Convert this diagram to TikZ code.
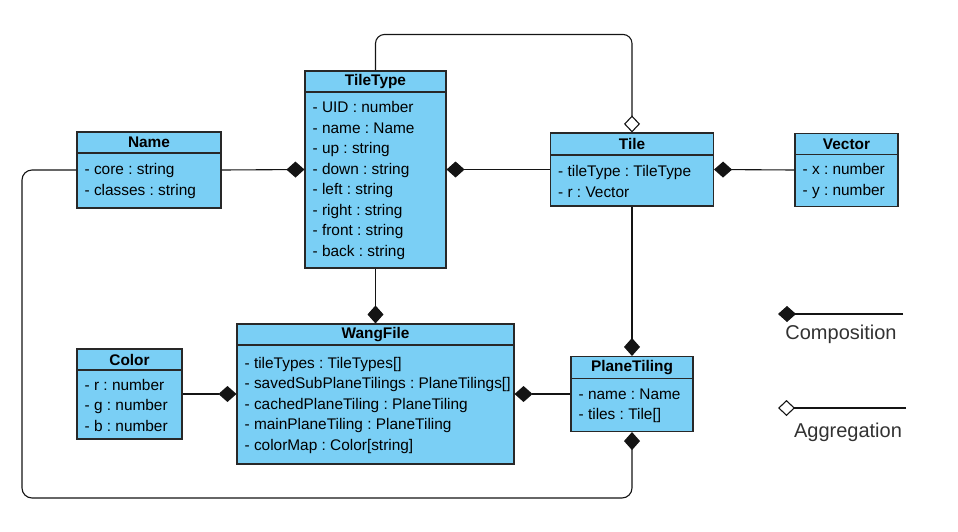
\documentclass[tikz,border=0pt]{standalone}
\usepackage{fontspec}
\setmainfont{Liberation Sans}
\usetikzlibrary{positioning,arrows.meta}
\definecolor{umlblue}{RGB}{122,207,245}
\definecolor{umlline}{RGB}{40,40,40}
\definecolor{linkline}{RGB}{20,20,20}
\definecolor{legendtext}{RGB}{50,50,50}
\frenchspacing

\begin{document}
\begin{tikzpicture}[
    x=1pt, y=-1pt,
    classbox/.style={draw=umlline, fill=umlblue, line width=1.1pt, inner sep=0pt},
    classtitle/.style={draw=umlline, line width=1.1pt, anchor=north, inner sep=0pt, font=\fontsize{15.4}{18}\selectfont\bfseries},
    classattrs/.style={anchor=north west, align=left, inner xsep=8pt, inner ysep=0pt, font=\fontsize{15.4}{20.5}\selectfont},
    comp/.style={draw=linkline, line width=1.1pt, -{Diamond[length=18pt, width=16pt]}},
    aggr/.style={draw=linkline, line width=1.1pt, -{Diamond[length=17pt, width=16pt, fill=white]}},
    legendlabel/.style={text=legendtext, font=\fontsize{20}{24}\selectfont},
]
\useasboundingbox (0,0) rectangle (958,531);

% classes
\node[classbox, minimum width=144pt, minimum height=76pt] (name) at (149,170) {};
\node[classtitle, minimum width=144pt, minimum height=21pt] (name-title) at (name.north) {Name};
\node[classattrs, minimum height=55pt] (name-attrs) at (name-title.south west) {- core : string\\- classes : string};

\node[classbox, minimum width=141pt, minimum height=197pt] (tiletype) at (375.5,169.5) {};
\node[classtitle, minimum width=141pt, minimum height=21pt] (tiletype-title) at (tiletype.north) {TileType};
\node[classattrs, minimum height=176pt] (tiletype-attrs) at (tiletype-title.south west) {- UID : number\\- name : Name\\- up : string\\- down : string\\- left : string\\- right : string\\- front : string\\- back : string};

\node[classbox, minimum width=163pt, minimum height=73pt] (tile) at (632,169.5) {};
\node[classtitle, minimum width=163pt, minimum height=22pt] (tile-title) at (tile.north) {Tile};
\node[classattrs, minimum height=51pt] (tile-attrs) at (tile-title.south west) {- tileType : TileType\\- r : Vector};

\node[classbox, minimum width=103pt, minimum height=73pt] (vector) at (846.5,170) {};
\node[classtitle, minimum width=103pt, minimum height=21pt] (vector-title) at (vector.north) {Vector};
\node[classattrs, minimum height=52pt] (vector-attrs) at (vector-title.south west) {- x : number\\- y : number};

\node[classbox, minimum width=277pt, minimum height=140pt] (wangfile) at (375.5,394) {};
\node[classtitle, minimum width=277pt, minimum height=21pt] (wangfile-title) at (wangfile.north) {WangFile};
\node[classattrs, minimum height=119pt] (wangfile-attrs) at (wangfile-title.south west) {- tileTypes : TileTypes[]\\- savedSubPlaneTilings : PlaneTilings[]\\- cachedPlaneTiling : PlaneTiling\\- mainPlaneTiling : PlaneTiling\\- colorMap : Color[string]};

\node[classbox, minimum width=105pt, minimum height=90pt] (color) at (129.5,394) {};
\node[classtitle, minimum width=105pt, minimum height=21pt] (color-title) at (color.north) {Color};
\node[classattrs, minimum height=69pt] (color-attrs) at (color-title.south west) {- r : number\\- g : number\\- b : number};

\node[classbox, minimum width=122pt, minimum height=75pt] (planetiling) at (632,394) {};
\node[classtitle, minimum width=122pt, minimum height=22pt] (planetiling-title) at (planetiling.north) {PlaneTiling};
\node[classattrs, minimum height=53pt] (planetiling-attrs) at (planetiling-title.south west) {- name : Name\\- tiles : Tile[]};

% connectors
\draw[comp] (name.east) -- (tiletype.west);
\draw[comp] (tile.west) -- (tiletype.east);
\draw[comp] (vector.west) -- (tile.east);
\draw[aggr, rounded corners=9pt] (tiletype.north) -- ++(0,-36) -| (tile.north);
\draw[comp] (tiletype.south) -- (wangfile.north);
\draw[comp] (tile.south) -- (planetiling.north);
\draw[comp] (color.east) -- (wangfile.west);
\draw[comp] (planetiling.west) -- (wangfile.east);
\coordinate (loopcorner) at (22,498);
\draw[comp, rounded corners=10pt] (name.west) -| (loopcorner) -| (planetiling.south);

% legend
\coordinate (compstart) at (778,314);
\coordinate (compend) at (903,314);
\draw[comp] (compend) -- (compstart);
\node[legendlabel] (complabel) at (841,334) {Composition};
\coordinate (aggrstart) at (778,408);
\coordinate (aggrend) at (906,408);
\draw[aggr] (aggrend) -- (aggrstart);
\node[legendlabel] (aggrlabel) at (848,432) {Aggregation};
\end{tikzpicture}
\end{document}
